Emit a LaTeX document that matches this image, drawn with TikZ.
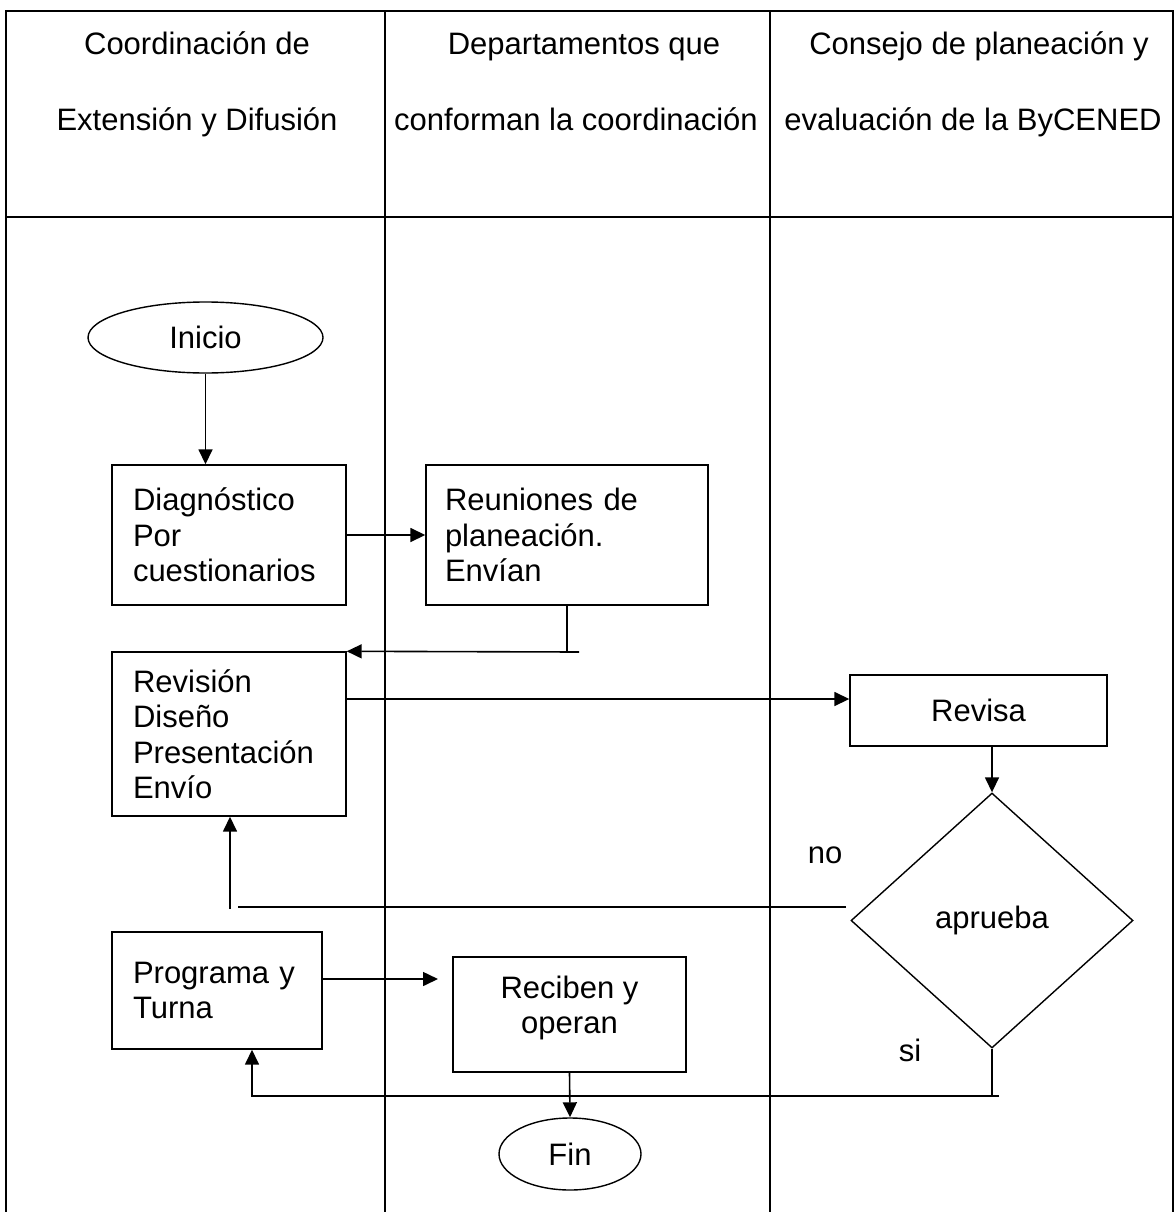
\documentclass[tikz,border=0pt]{standalone}
\usepackage{fontspec}
\setmainfont{Liberation Sans}
\usetikzlibrary{arrows.meta,shapes.geometric}
\tikzset{
  lane/.style={line width=2pt},
  box/.style={draw, line width=1.4pt, rectangle, inner sep=0pt},
  txt/.style={font=\fontsize{31}{35.5}\selectfont},
  head/.style={font=\fontsize{31}{35.5}\selectfont, anchor=base},
  arr/.style={line width=1.6pt, -{Triangle[length=15pt,width=14pt]}},
  conn/.style={line width=1.6pt},
}
\begin{document}
\begin{tikzpicture}[x=1pt,y=-1pt]
\useasboundingbox (0,0) rectangle (1175,1212);
% swimlane table
\draw[lane] (6,1212) -- (6,11) -- (1173,11) -- (1173,1212);
\draw[lane] (6,217) -- (1173,217);
\draw[lane] (385,11) -- (385,1212);
\draw[lane] (770,11) -- (770,1212);
% headers
\node[head] (h1a) at (197,55) {Coordinación de};
\node[head] (h1b) at (197,131) {Extensión y Difusión};
\node[head] (h2a) at (584,55) {Departamentos que};
\node[head] (h2b) at (576,131) {conforman la coordinación};
\node[head] (h3a) at (979,55) {Consejo de planeación y};
\node[head] (h3b) at (973,131) {evaluación de la ByCENED};
% nodes
\node[txt, draw, line width=1.4pt, ellipse, inner sep=0pt, minimum width=235pt, minimum height=71pt] (inicio) at (205.5,337.5) {Inicio};
\node[txt, box, minimum width=234pt, minimum height=140pt, text width=192pt, align=left] (diag) at (229,535) {Diagnóstico\\Por\\cuestionarios};
\node[txt, box, minimum width=282pt, minimum height=140pt, text width=244pt, align=left] (reun) at (567,535) {Reuniones de\\planeación.\\Envían};
\node[txt, box, minimum width=234pt, minimum height=164pt, text width=192pt, align=left] (rev) at (229,734) {Revisión\\Diseño\\Presentación\\Envío};
\node[txt, box, minimum width=257pt, minimum height=71pt] (revisa) at (978.5,710.5) {Revisa};
\node[txt, draw, line width=1.4pt, diamond, inner sep=0pt, minimum width=282pt, minimum height=255pt] (dia) at (992,920.5) {aprueba};
\node[txt, box, minimum width=210pt, minimum height=117pt, text width=168pt, align=left] (prog) at (217,990.5) {Programa y\\Turna};
\node[txt, box, minimum width=233pt, minimum height=115pt, align=center, text depth=19pt] (rec) at (569.5,1014.5) {Reciben y\\operan};
\node[txt, draw, line width=1.4pt, ellipse, inner sep=0pt, minimum width=142pt, minimum height=72pt] (fin) at (570,1154) {Fin};
% labels
\node[txt] (no) at (825,855) {no};
\node[txt] (si) at (910,1050) {si};
% connectors
\draw[arr] (inicio.south) -- (inicio.south |- diag.north);
\draw[arr] (diag.east) -- (reun.west);
\coordinate (rj) at (567,652);
\coordinate (re) at (579,652);
\draw[conn] (reun.south) -- (rj);
\draw[arr] (re) -- (rev.north east);
\coordinate (ra) at (346,699);
\draw[arr] (ra) -- (ra -| revisa.west);
\draw[arr] (dia.north |- revisa.south) -- (dia.north);
\coordinate (n1) at (846,907);
\coordinate (n2) at (238,907);
\coordinate (n3) at (230,909);
\draw[conn] (n1) -- (n2);
\draw[arr] (n3) -- (n3 |- rev.south);
\coordinate (s1) at (992,1096);
\coordinate (s2) at (999,1096);
\coordinate (s3) at (252,1096);
\draw[conn] (dia.south) -- (s1);
\draw[arr] (s2) -- (s3) -- (s3 |- prog.south);
\coordinate (p1) at (322,979);
\coordinate (p2) at (438,979);
\draw[arr] (p1) -- (p2);
\draw[arr] (rec.south) -- (fin.north);
\end{tikzpicture}
\end{document}
